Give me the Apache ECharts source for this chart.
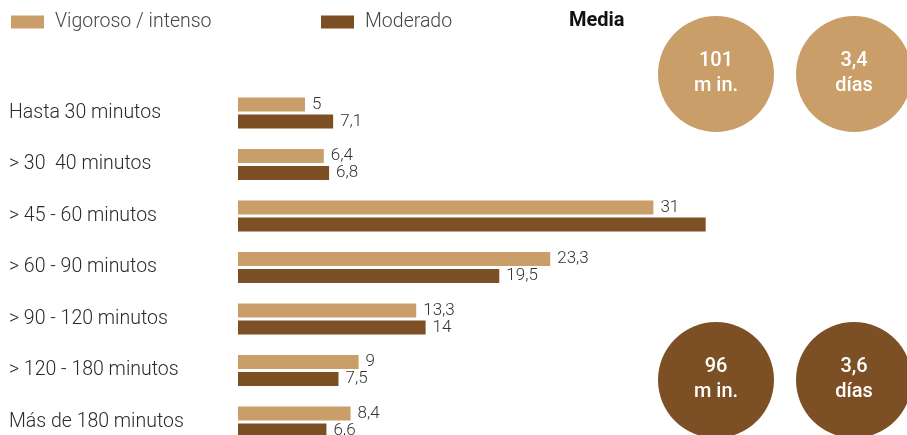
<!DOCTYPE html>
<html>
<head>
<meta charset="utf-8">
<script src="https://cdn.jsdelivr.net/npm/echarts@6/dist/echarts.min.js"></script>
<style>
  html, body { margin: 0; padding: 0; background: #fff; }
  #chart { width: 907px; height: 435px; }
</style>
</head>
<body>
<div id="chart"></div>
<script>
// Duración de la actividad física (%)
const categories = [
  'Hasta 30 minutos',
  '> 30  40 minutos',
  '> 45 - 60 minutos',
  '> 60 - 90 minutos',
  '> 90 - 120 minutos',
  '> 120 - 180 minutos',
  'Más de 180 minutos'
];
const seriesNames = ['Vigoroso / intenso', 'Moderado'];
const vigoroso = [5, 6.4, 31, 23.3, 13.3, 9, 8.4];
const moderado = [7.1, 6.8, 34.9, 19.5, 14, 7.5, 6.6];
// which moderado bars carry a value label
const moderadoLabels = [true, true, false, true, true, true, true];

// Media: minutos y días
const mediaTitle = 'Media';
const mediaVigoroso = ['101\nm in.', '3,4\ndías'];
const mediaModerado = ['96\nm in.', '3,6\ndías'];

const colors = ['#C99E68', '#7D4F25'];
const FONT = "Roboto, 'Noto Sans', sans-serif";

const fmt = p => String(p.value).replace('.', ',');

function circles(texts, cy, color) {
  const cxs = [716, 854];
  return texts.map((t, i) => ({
    type: 'group',
    children: [
      { type: 'circle', shape: { cx: cxs[i], cy: cy, r: 58 }, style: { fill: color } },
      { type: 'text', x: cxs[i], y: cy - 1,
        style: { text: t, fill: '#fff', font: "500 20px Roboto, sans-serif",
                 align: 'center', verticalAlign: 'middle', lineHeight: 25 } }
    ]
  }));
}

const legendText = { fontSize: 19.5, fontWeight: 300, color: '#444', fontFamily: FONT,
                     lineHeight: 20, padding: [0, 0, 0, 6] };

const chart = echarts.init(document.getElementById('chart'), null, { renderer: 'canvas' });
chart.setOption({
  animation: false,
  backgroundColor: '#fff',
  textStyle: { fontFamily: FONT },
  legend: [
    { data: [seriesNames[0]], left: 11, top: 12, padding: 0, itemWidth: 33, itemHeight: 13,
      icon: 'rect', textStyle: legendText },
    { data: [seriesNames[1]], left: 321, top: 12, padding: 0, itemWidth: 33, itemHeight: 13,
      icon: 'rect', textStyle: legendText }
  ],
  grid: { left: 238, top: 113, bottom: 13, right: 133, containLabel: false },
  xAxis: { type: 'value', min: 0, max: 40, show: false },
  yAxis: {
    type: 'category', data: categories, inverse: true, boundaryGap: false,
    axisLine: { show: false }, axisTick: { show: false }, splitLine: { show: false },
    axisLabel: {
      align: 'left', margin: 229, fontSize: 19.5, fontWeight: 300, color: '#2a2a2a',
      fontFamily: FONT, padding: [0, 0, 6, 0]
    }
  },
  series: [
    {
      name: seriesNames[0], type: 'bar', data: vigoroso, barWidth: 14, barGap: '21%',
      clip: false,
      itemStyle: { color: colors[0] },
      label: { show: true, position: 'right', distance: 7, formatter: fmt,
               fontSize: 17, fontWeight: 300, color: '#333', fontFamily: FONT }
    },
    {
      name: seriesNames[1], type: 'bar', barWidth: 14, clip: false,
      data: moderado.map((v, i) => ({ value: v, label: { show: moderadoLabels[i] } })),
      itemStyle: { color: colors[1] },
      label: { show: true, position: 'right', distance: 7, formatter: fmt,
               fontSize: 17, fontWeight: 300, color: '#333', fontFamily: FONT }
    }
  ],
  graphic: [
    { type: 'text', left: 569, top: 11,
      style: { text: mediaTitle, fill: '#111', font: "bold 20px " + FONT } },
    ...circles(mediaVigoroso, 74, colors[0]),
    ...circles(mediaModerado, 380, colors[1])
  ]
});
</script>
</body>
</html>
